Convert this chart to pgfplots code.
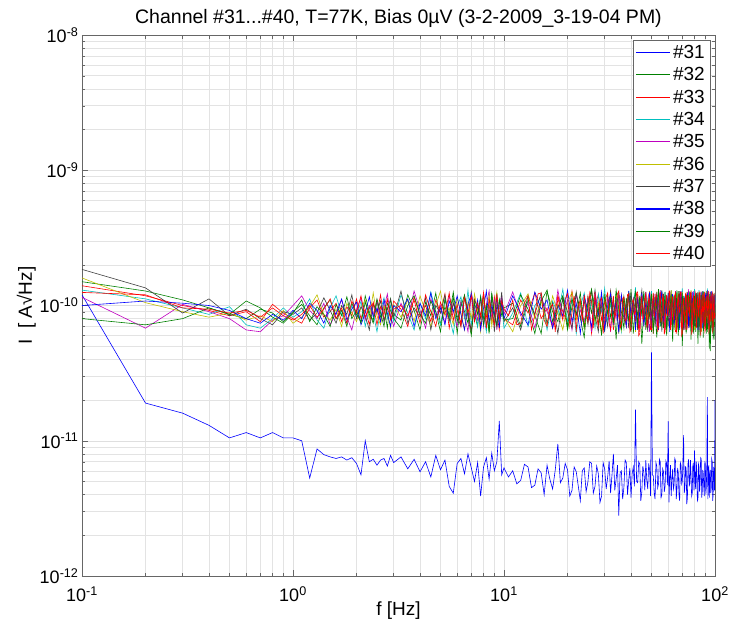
\documentclass[border=0pt]{standalone}
\usepackage{fontspec}
\setmainfont{Liberation Sans}
\usepackage{pgfplots}
\usepackage{pgfplotstable}
\pgfplotsset{compat=1.18}
\definecolor{mb}{RGB}{0,0,255}
\definecolor{mg}{RGB}{0,128,0}
\definecolor{mr}{RGB}{255,0,0}
\definecolor{mc}{RGB}{0,191,191}
\definecolor{mm}{RGB}{191,0,191}
\definecolor{my}{RGB}{191,191,0}
\definecolor{mk}{RGB}{64,64,64}
% noise current spectral density in pA/sqrt(Hz), channels #32-#39
\pgfplotstableread{
f c32 c33 c34 c35 c36 c37 c38 c39
0.1 150 140 130 115 160 185 100 80
0.2 128 118 112 68 105 135 108 72
0.3 110 100 96 102 90 88 104 80
0.4 96 92 86 90 82 112 100 96
0.5 86 84 98 80 88 84 92 86
0.6 80 90 72 66 78 94 80 108
0.7 94 76 68 64 84 80 74 96
0.8 88 102 80 78 76 72 86 82
0.9 76 88 96 84 92 90 78 74
1.0 90 80 82 100 74 86 92 88
1.1 102 74 90 118 82 96 80 110
1.2 84 96 112 92 98 78 104 76
1.3 72 110 78 80 120 88 92 98
1.4 96 82 68 104 86 114 74 86
1.5 110 90 96 72 78 92 100 70
1.6 80 104 118 88 94 74 86 102
1.7 92 76 86 110 70 100 112 84
1.8 70 98 74 82 104 86 78 116
1.9 104 84 100 66 88 120 94 80
2.0 86 112 82 94 76 80 106 92
2.1 76 80 108 114 96 98 72 74
2.2 118 94 70 78 110 84 88 106
2.3 90 72 96 100 80 66 116 86
2.4 74 106 88 86 124 102 82 78
2.5 108 86 64 110 84 90 96 112
2.6 82 120 92 76 72 108 76 88
2.7 98 78 114 96 100 76 110 70
2.8 68 96 80 122 86 94 88 104
2.9 112 82 100 84 68 112 70 92
3.0 86 108 76 70 102 82 100 80
3.25 78 94 120 104 82 128 90 68
3.5 120 70 88 80 110 74 112 100
3.75 92 116 66 128 76 96 70 118
4.0 66 84 104 92 118 82 104 86
4.25 106 100 80 68 90 114 84 74
4.5 84 76 126 112 70 66 124 108
4.75 124 110 90 84 100 100 80 90
5.0 72 88 72 100 128 88 96 64
5.25 98 122 110 74 84 120 72 112
5.5 80 68 84 118 96 76 108 84
5.75 116 104 62 90 72 104 90 126
6.0 62 92 98 70 114 84 118 76
6.25 108 74 116 106 88 70 86 98
6.5 90 118 80 86 66 116 66 120
6.75 74 86 130 64 106 92 102 82
7.0 126 64 72 124 80 64 122 60
7.25 86 112 96 96 122 110 78 104
7.5 70 96 70 78 92 96 110 86
7.75 114 70 118 114 64 80 66 116
8.0 80 124 86 70 110 124 96 72
8.25 100 82 64 102 86 70 128 100
8.5 64 102 108 128 120 88 74 62
8.75 122 76 90 80 70 112 100 124
9.0 88 116 74 110 98 64 84 86
9.25 72 88 124 66 126 102 116 70
9.5 110 66 82 96 76 84 68 110
9.75 84 108 100 118 104 126 106 92
10 96 80 68 86 82 76 80 78
11 104 72 88 126 64 96 118 80
12 70 110 124 84 100 66 88 120
13 118 88 70 104 122 110 72 94
14 84 124 100 68 80 86 126 62
15 62 80 116 114 108 124 94 108
16 128 96 66 90 72 74 110 130
17 90 68 108 72 118 104 68 76
18 76 118 86 130 88 62 100 98
19 112 90 132 82 66 116 84 118
20 66 74 76 110 104 90 130 70
21 98 128 114 66 126 68 76 112
22 124 84 62 120 78 126 104 86
23 80 106 98 92 112 80 62 124
24 58 70 124 76 68 108 118 68
25 116 116 80 112 96 72 90 104
26 88 62 110 64 130 130 70 132
27 130 100 68 126 74 84 112 78
28 72 120 122 88 106 64 84 96
29 100 78 90 104 62 118 126 60
30 64 108 134 72 118 92 66 118
31 120 86 76 116 84 70 100 88
32 82 126 104 64 112 128 122 112
33 108 66 72 106 70 86 74 74
34 56 102 120 80 124 110 108 130
35 126 82 86 122 92 62 64 94
36 90 118 64 70 66 120 120 66
37 68 92 112 112 114 78 90 116
38 114 70 94 78 80 104 70 84
39 76 124 128 124 126 68 128 124
40 132 88 70 66 72 124 84 64
41 62 108 100 104 102 88 112 102
42 104 76 136 86 64 112 66 126
43 84 122 66 118 120 66 116 72
44 118 64 106 68 88 102 80 110
45 52 114 84 108 110 130 124 86
46 96 84 122 74 70 76 70 128
47 126 106 74 126 116 92 106 66
48 70 68 112 92 78 64 88 104
49 110 128 90 64 128 118 126 82
50 64 90 128 114 86 84 68 122
51 122 62 68 84 66 106 114 62
52 86 116 104 122 108 70 80 116
53 58 98 80 70 124 126 120 92
54 116 72 132 100 74 80 66 132
55 78 124 70 130 112 110 104 70
56 130 84 114 76 68 64 128 108
57 68 110 88 108 122 122 76 84
58 102 66 126 66 90 88 110 126
59 60 118 66 118 64 104 86 64
60 124 94 108 86 118 70 124 112
61 82 70 94 124 84 126 64 88
62 112 128 130 72 130 84 100 122
63 54 86 72 106 72 114 122 68
64 120 112 118 80 106 66 72 118
65 88 64 84 128 66 118 116 78
66 66 120 126 68 124 90 84 130
67 128 80 68 116 88 72 106 60
68 76 108 110 90 110 128 66 106
69 106 74 80 126 70 82 128 86
70 50 126 134 74 126 116 94 124
71 118 90 90 110 82 66 72 72
72 92 66 116 66 114 104 118 114
73 62 120 70 120 68 122 84 64
74 126 80 124 84 120 76 124 120
75 72 116 82 132 76 112 68 88
76 114 70 128 72 104 68 112 126
77 56 124 66 112 130 124 80 70
78 108 86 112 80 72 86 126 108
79 82 110 92 128 112 118 70 62
80 130 68 132 70 66 70 106 118
81 64 118 74 116 118 110 90 76
82 120 92 120 86 80 80 124 124
83 52 124 86 122 126 126 66 68
84 98 76 130 66 70 64 114 112
85 124 112 68 110 108 112 82 58
86 74 64 116 84 64 94 126 120
87 112 120 84 126 124 128 68 82
88 58 84 128 74 86 72 118 126
89 118 126 70 120 118 116 76 70
90 86 70 110 68 72 68 124 114
91 128 108 92 114 128 124 88 62
92 64 74 134 78 80 84 130 118
93 110 122 72 128 112 112 70 74
94 48 88 118 70 66 66 116 122
95 116 126 80 118 122 126 80 46
96 80 68 126 82 76 78 128 108
97 124 114 66 124 116 118 72 64
98 56 82 122 66 70 70 118 116
99 108 120 76 116 124 124 84 56
100 84 78 114 84 86 90 120 102
}\noise
% channels #31 and #40, finer frequency steps above 10 Hz
\pgfplotstableread{
f c31 c40
0.1 120 125
0.2 19 120
0.3 16 96
0.4 13 94
0.5 10.5 88
0.6 11.5 92
0.7 10.5 82
0.8 11.5 96
0.9 10.5 84
1.0 10.5 78
1.1 10 86
1.2 5.3 100
1.3 8.7 82
1.4 7.9 94
1.5 7.6 112
1.6 7.4 80
1.7 7.6 96
1.8 7.2 74
1.9 7.5 108
2.0 6.8 88
2.1 5.6 118
2.2 10 82
2.3 7.0 96
2.4 7.3 104
2.5 6.6 72
2.6 7.2 98
2.7 7.4 86
2.8 6.5 112
2.9 7.8 78
3.0 6.9 94
3.25 7.6 100
3.5 6.2 84
3.75 7.3 110
4.0 5.9 74
4.25 7.0 120
4.5 5.4 90
4.75 7.8 70
5.0 6.1 106
5.25 7.2 86
5.5 4.6 124
5.75 4.1 78
6.0 6.8 102
6.25 7.4 70
6.5 5.7 114
6.75 8.0 88
7.0 6.3 118
7.25 5.0 76
7.5 6.9 104
7.75 3.9 84
8.0 6.4 126
8.25 7.5 68
8.5 5.2 112
8.75 8.1 90
9.0 6.0 72
9.25 7.0 122
9.5 14 80
9.75 5.6 108
10 6.3 94
10.5 5.4 84
11 6.0 110
11.5 4.8 72
12 5.1 74
12.5 6.7 104
13 6.4 118
13.5 4.5 66
14 4.7 86
14.5 6.2 122
15 5.8 124
15.5 4.0 78
16 6.6 70
16.5 5.2 96
17 4.4 102
17.5 6.1 64
18 9.5 116
18.5 4.9 92
19 5.3 78
19.5 6.8 112
20 6.1 122
20.5 3.9 70
21 4.3 88
21.5 6.4 118
22 5.9 64
22.5 4.6 100
23 3.6 110
23.5 6.0 76
24 6.3 120
24.5 4.2 90
25 5.0 76
25.5 7.0 124
26 6.8 106
26.5 4.1 68
27 4.6 126
27.5 6.5 82
28 5.7 70
28.5 3.5 108
29 3.9 114
29.5 6.9 62
30 6.2 84
30.5 4.4 116
31 5.4 124
31.5 7.1 74
32 4.1 66
32.5 5.6 98
33 8.0 118
33.5 4.3 80
34 5.2 92
34.5 6.6 122
35 2.8 128
35.5 5.8 68
36 6.0 72
36.5 3.7 112
37 4.5 116
37.5 7.2 76
38 6.9 80
38.5 4.0 120
39 5.1 122
39.5 6.3 64
40 3.8 68
40.5 5.7 106
41 6.4 112
41.5 4.6 86
42 17 90
42.5 5.0 124
43 4.9 126
43.5 7.0 60
44 6.7 62
44.5 3.6 100
45 4.2 118
45.5 6.5 78
46 5.8 84
46.5 4.3 114
47 7.2 122
47.5 5.1 70
48 4.4 74
48.5 6.8 118
49 6.1 110
49.5 3.9 66
50 45 66
50.5 5.6 104
51 5.5 124
51.5 4.1 82
52 3.7 88
52.5 6.9 120
53 6.5 116
53.5 4.5 64
54 4.8 70
54.5 7.3 112
55 7.0 126
55.5 3.8 76
56 4.0 80
56.5 6.2 122
57 5.9 112
57.5 4.2 62
58 4.6 64
58.5 7.1 108
59 6.8 120
59.5 4.7 84
60 14 94
60.5 3.5 126
61 5.3 128
61.5 6.6 66
62 3.9 72
62.5 5.2 114
63 6.2 116
63.5 4.4 78
64 4.7 84
64.5 7.4 120
65 7.1 124
65.5 3.7 62
66 4.3 68
66.5 6.3 110
67 5.8 118
67.5 4.0 88
68 3.6 90
68.5 6.9 126
69 6.6 126
69.5 4.8 60
70 5.0 62
70.5 7.0 104
71 11 114
71.5 4.1 76
72 4.5 80
72.5 6.4 122
73 6.3 124
73.5 3.4 66
74 3.8 70
74.5 6.8 116
75 7.3 118
75.5 4.6 82
76 4.9 96
76.5 7.2 124
77 5.6 126
77.5 3.9 62
78 4.1 64
78.5 6.5 106
79 6.9 120
79.5 4.3 78
80 8.5 86
80.5 5.0 118
81 4.4 124
81.5 7.0 68
82 6.0 72
82.5 3.6 112
83 3.7 116
83.5 6.7 84
84 6.4 82
84.5 4.2 126
85 4.8 126
85.5 7.5 60
86 7.4 68
86.5 3.8 108
87 4.2 120
87.5 6.1 74
88 5.7 78
88.5 4.5 122
89 3.9 124
89.5 7.1 64
90 6.7 66
90.5 4.0 114
91 4.6 116
91.5 6.9 80
92 21 86
92.5 3.7 124
93 5.2 126
93.5 6.6 62
94 3.8 70
94.5 5.4 110
95 6.1 118
95.5 4.1 76
96 4.5 82
96.5 7.3 120
97 7.0 124
97.5 3.6 64
98 4.0 66
98.5 6.4 112
99 5.9 122
99.5 4.3 80
100 20 88
}\noiseab
\begin{document}
\begin{tikzpicture}
\begin{axis}[
  name=ax,
  scale only axis,
  width=633pt, height=541pt,
  xmode=log, ymode=log,
  log basis x=10, log basis y=10,
  xmin=0.1, xmax=100, ymin=1e-12, ymax=1e-8,
  axis line style={gray!80!black},
  every tick/.style={gray!80!black},
  tick align=inside,
  major tick length=6pt, minor tick length=3.5pt,
  grid=both,
  major grid style={gray!25, line width=0.5pt},
  minor grid style={gray!22, line width=0.5pt},
  tick label style={font=\fontsize{18}{20}\selectfont, black},
  xticklabel style={yshift=-7pt},
  xticklabel={\pgfmathparse{int(round(\tick))}10\textsuperscript{\pgfmathresult}},
  yticklabel={\pgfmathparse{int(round(\tick))}10\textsuperscript{\pgfmathresult}},
  title={Channel \#31...\#40, T=77K, Bias 0µV (3-2-2009\_3-19-04 PM)},
  title style={font=\fontsize{19.5}{22}\selectfont, yshift=-2pt},
  xlabel={f [Hz]},
  xlabel style={yshift=7pt},
  ylabel={I\ \ [ A√Hz]},
  ylabel style={yshift=-3pt},
  label style={font=\fontsize{19}{22}\selectfont},
  legend style={font=\fontsize{19}{22}\selectfont, draw=gray!80!black,
    at={(0.992,0.991)}, anchor=north east, row sep=3.6pt,
    inner xsep=3pt, inner ysep=3pt},
  legend cell align=left,
  legend image code/.code={\draw[#1, line width=1.1pt] (0pt,0pt) -- (34pt,0pt);},
  every axis plot/.append style={line width=0.6pt},
]
\addplot[draw=mb] table[x=f, y expr=\thisrow{c31}*1e-12]{\noiseab};
\addplot[draw=mg] table[x=f, y expr=\thisrow{c32}*1e-12]{\noise};
\addplot[draw=mr] table[x=f, y expr=\thisrow{c33}*1e-12]{\noise};
\addplot[draw=mc] table[x=f, y expr=\thisrow{c34}*1e-12]{\noise};
\addplot[draw=mm] table[x=f, y expr=\thisrow{c35}*1e-12]{\noise};
\addplot[draw=my] table[x=f, y expr=\thisrow{c36}*1e-12]{\noise};
\addplot[draw=mk] table[x=f, y expr=\thisrow{c37}*1e-12]{\noise};
\addplot[draw=mb] table[x=f, y expr=\thisrow{c38}*1e-12]{\noise};
\addplot[draw=mg] table[x=f, y expr=\thisrow{c39}*1e-12]{\noise};
\addplot[draw=mr] table[x=f, y expr=\thisrow{c40}*1e-12]{\noiseab};
\legend{\#31,\#32,\#33,\#34,\#35,\#36,\#37,\#38,\#39,\#40}
\end{axis}
\pgfresetboundingbox
\useasboundingbox ([xshift=-82pt,yshift=-48pt]ax.south west) rectangle ([xshift=14pt,yshift=35pt]ax.north east);
\end{tikzpicture}
\end{document}
